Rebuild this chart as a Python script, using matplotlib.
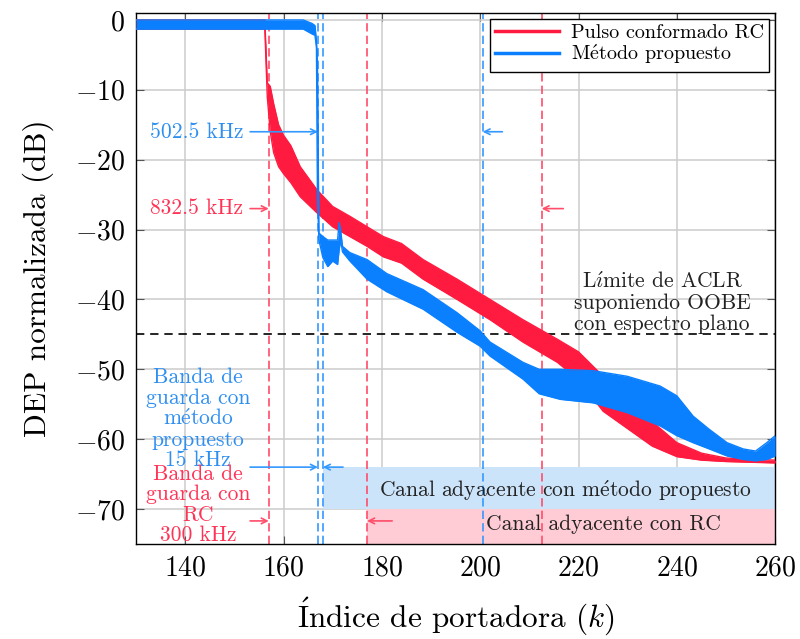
import matplotlib
matplotlib.use("Agg")
import matplotlib.pyplot as plt
from matplotlib.lines import Line2D

plt.rcParams['font.family'] = 'serif'
plt.rcParams['font.serif'] = ['cmr10']
plt.rcParams['mathtext.fontset'] = 'cm'
plt.rcParams['axes.formatter.use_mathtext'] = True

# ---------------- data ----------------
red_k = [130, 156.2, 156.7, 157.3, 158, 159, 160, 161.5, 163.4, 166.8, 170, 173.5, 177,
         180.3, 184, 188.4, 195.3, 202, 208.7, 215.7, 220, 225, 230, 235, 240, 245, 250, 260]
red_hi = [0, 0, -9, -9.5, -12, -15, -16.5, -18, -21, -24.3, -26.7, -28.1, -29.6,
          -31, -32, -34.3, -37.1, -40, -42.9, -45.7, -47.5, -51, -54, -57.5, -60.5, -62, -62.7, -63]
red_lo = [-1.3, -1.3, -11, -16, -19, -21, -22, -23.3, -25.3, -27.6, -29.6, -31, -32.4,
          -33.9, -34.8, -37.1, -40, -42.9, -46.1, -49, -51.5, -56, -58.5, -61, -62.5, -63, -63.2, -63.4]

blue_k = [130, 164, 165.8, 166.4, 166.7, 166.9, 167.2, 168, 169, 170, 171, 171.3, 171.6, 172,
          173.5, 177, 181, 188.4, 195.3, 200, 202, 208.7, 212, 216.3, 223, 229.9, 236.6, 240,
          243.3, 246.6, 250.2, 253.5, 256, 258.3, 260]
blue_hi = [0, 0, -0.5, -0.8, -3, -6, -30.5, -31, -31.5, -31.5, -31.5, -29, -30, -32.4,
           -33.3, -34.3, -36.3, -38.6, -41.9, -44.5, -46.1, -49, -50, -50, -50.2, -51, -52.4, -53.8,
           -56.7, -58.6, -60.5, -61.4, -61.7, -60.5, -59.5]
blue_lo = [-1.3, -1.3, -2, -2.2, -4, -25, -31.5, -34, -35.3, -34.5, -35, -33, -31.5, -33.2,
           -34.5, -37.1, -38.9, -41.4, -44.7, -46.7, -48.1, -51.4, -53.5, -54.3, -54.8, -56.2, -58.1, -59.5,
           -60.5, -61.4, -62.4, -62.9, -63.1, -62.9, -62.4]

red_vlines = [157, 177, 212.5]
blue_vlines = [167, 168, 200.5]
aclr_limit = -45

band_blue_x = [168, 260]
band_blue_y = [-70, -64]
band_red_x = [177, 260]
band_red_y = [-75, -70]

xticks = [140, 160, 180, 200, 220, 240, 260]
yticks = [0, -10, -20, -30, -40, -50, -60, -70]

RED = '#FF1A40'
BLUE = '#0A80FF'
RED_D = '#FF4D6A'
BLUE_D = '#3399FF'
RED_T = '#FF3355'
BLUE_T = '#2E8FF0'

fig = plt.figure(figsize=(8.0, 6.39), dpi=100)
ax = fig.add_axes([0.17, 0.1487, 0.799, 0.831])

ax.set_xlim(130, 260)
ax.set_ylim(-75, 1)
ax.set_xticks(xticks)
ax.set_yticks(yticks)
ax.grid(True, color='#cccccc', lw=1.1)
ax.set_axisbelow(True)
ax.tick_params(direction='in', top=True, right=True, labelsize=20, length=6,
               color='#555555', pad=8)
for s in ax.spines.values():
    s.set_linewidth(1.0)

# shaded channels
ax.fill_between(band_blue_x, band_blue_y[0], band_blue_y[1], color='#CCE4FA', lw=0, zorder=1)
ax.fill_between(band_red_x, band_red_y[0], band_red_y[1], color='#FFCCD5', lw=0, zorder=1)

# vertical dashed markers
for xv in red_vlines:
    ax.axvline(xv, color=RED_D, lw=1.2, dashes=(5, 2.5), zorder=2)
for xv in blue_vlines:
    ax.axvline(xv, color=BLUE_D, lw=1.2, dashes=(5, 2.5), zorder=2)
ax.axhline(aclr_limit, color='black', lw=1.2, dashes=(5, 3.5), zorder=2)

# spectra
ax.fill_between(red_k, red_lo, red_hi, color=RED, lw=0, zorder=3)
ax.plot(red_k, red_hi, color=RED, lw=1.0, zorder=3)
ax.plot(red_k, red_lo, color=RED, lw=1.0, zorder=3)
ax.fill_between(blue_k, blue_lo, blue_hi, color=BLUE, lw=0, zorder=4)
ax.plot(blue_k, blue_hi, color=BLUE, lw=1.0, zorder=4)
ax.plot(blue_k, blue_lo, color=BLUE, lw=1.0, zorder=4)

# legend
h = [Line2D([], [], color=RED, lw=2.5), Line2D([], [], color=BLUE, lw=2.5)]
leg = ax.legend(h, ['Pulso conformado RC', r'M$\acute{\mathrm{e}}$todo propuesto'],
                loc='upper right', fontsize=14.5, frameon=True, fancybox=False,
                edgecolor='black', framealpha=1, borderaxespad=0.3, handlelength=3.2,
                borderpad=0.25, labelspacing=0.05, handletextpad=0.6)
leg.get_frame().set_linewidth(1.0)
leg.set_zorder(10)

TFS = 15.5
ap = lambda c: dict(arrowstyle='->', color=c, lw=1.2, shrinkA=0, shrinkB=0)

# bandwidth annotations
ax.text(151.8, -16, '502.5 kHz', color=BLUE_T, fontsize=TFS, ha='right', va='center')
ax.annotate('', xy=(167, -16), xytext=(153.2, -16), arrowprops=ap(BLUE_D))
ax.annotate('', xy=(200.5, -16), xytext=(204.5, -16), arrowprops=ap(BLUE_D))
ax.text(151.8, -27, '832.5 kHz', color=RED_T, fontsize=TFS, ha='right', va='center')
ax.annotate('', xy=(157, -27), xytext=(153.2, -27), arrowprops=ap(RED_D))
ax.annotate('', xy=(212.5, -27), xytext=(216.9, -27), arrowprops=ap(RED_D))

# guard band annotations
ax.text(142.6, -57.1, 'Banda de\nguarda con\n' + r'm$\acute{\mathrm{e}}$todo' + '\npropuesto\n15 kHz',
        color=BLUE_T, fontsize=TFS, ha='center', va='center', linespacing=1.05)
ax.annotate('', xy=(167, -64), xytext=(153.2, -64), arrowprops=ap(BLUE_D))
ax.annotate('', xy=(168, -64), xytext=(172.1, -64), arrowprops=ap(BLUE_D))
ax.text(142.6, -69.4, 'Banda de\nguarda con\nRC\n300 kHz',
        color=RED_T, fontsize=TFS, ha='center', va='center', linespacing=1.05)
ax.annotate('', xy=(157, -71.7), xytext=(153.2, -71.7), arrowprops=ap(RED_D))
ax.annotate('', xy=(177, -71.7), xytext=(182.1, -71.7), arrowprops=ap(RED_D))

# ACLR limit
ax.text(237, -40.4, r'L$\acute{\mathrm{\imath}}$mite de ACLR' + '\nsuponiendo OOBE\ncon espectro plano',
        color='#222222', fontsize=TFS, ha='center', va='center', linespacing=1.1)

# channel labels
ax.text(217.3, -67.3, r'Canal adyacente con m$\acute{\mathrm{e}}$todo propuesto',
        color='#222222', fontsize=TFS, ha='center', va='center', zorder=5)
ax.text(225, -72.2, 'Canal adyacente con RC',
        color='#222222', fontsize=TFS, ha='center', va='center', zorder=5)

ax.set_xlabel(r'$\acute{\mathrm{I}}$ndice de portadora $(k)$', fontsize=22.5, labelpad=10)
ax.set_ylabel('DEP normalizada (dB)', fontsize=22.5, labelpad=15)

fig.savefig('out.png', dpi=100)
